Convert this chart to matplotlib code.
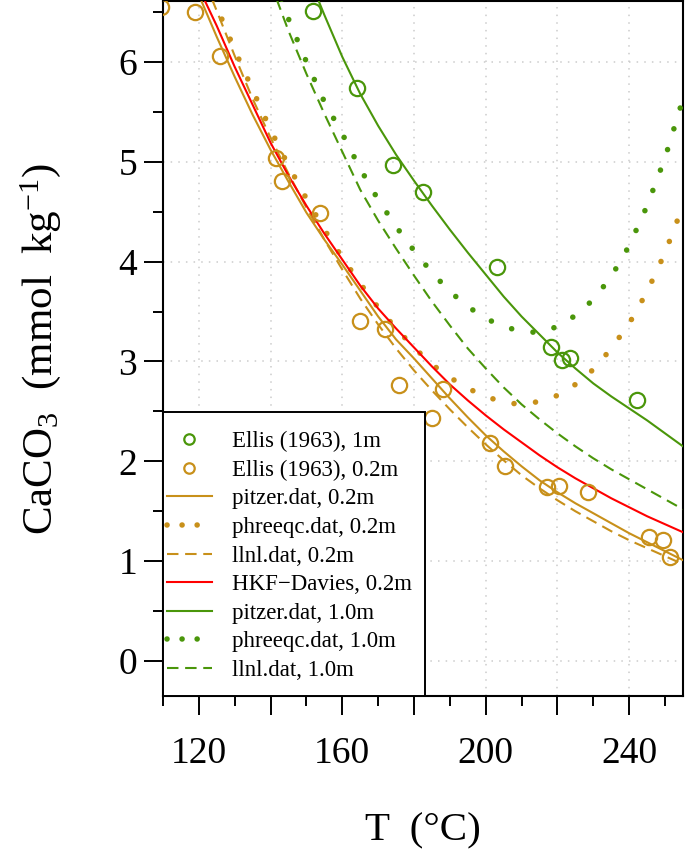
import matplotlib
matplotlib.use('Agg')
import matplotlib.pyplot as plt
from matplotlib.lines import Line2D
from matplotlib.patches import Rectangle
from matplotlib.ticker import MultipleLocator, FixedLocator, FixedFormatter

plt.rcParams['font.family'] = ['Liberation Serif', 'DejaVu Serif']
plt.rcParams['mathtext.fontset'] = 'custom'
plt.rcParams['mathtext.rm'] = 'Liberation Serif'
plt.rcParams['mathtext.it'] = 'Liberation Serif:italic'

GOLD = '#C8901A'
GREEN = '#4A960A'
RED = '#FF0000'

# ---- Experimental data (Ellis 1963) ----
ellis_1m_T = [151.9, 164.1, 174.1, 182.4, 203.2, 218.3, 221.2, 223.4, 242.3]
ellis_1m_C = [6.51, 5.74, 4.97, 4.70, 3.95, 3.15, 3.01, 3.03, 2.61]

ellis_02_T = [109.5, 118.9, 125.9, 141.6, 143.3, 153.9, 164.8, 172.0, 175.7,
              185.1, 188.1, 201.1, 205.3, 217.2, 220.3, 228.4, 245.6, 249.3, 251.3]
ellis_02_C = [6.55, 6.50, 6.06, 5.04, 4.81, 4.49, 3.41, 3.33, 2.76,
              2.43, 2.72, 2.18, 1.95, 1.74, 1.75, 1.69, 1.24, 1.21, 1.04]

# ---- Model curves, 0.2 m ----
T_02 = [115, 120, 125, 130, 135, 140, 145, 150, 155, 160, 165, 170, 175, 180, 185,
        190, 195, 200, 205, 210, 215, 220, 225, 230, 235, 240, 245, 250, 255]
pitzer_02 = [7.10, 6.67, 6.25, 5.85, 5.47, 5.12, 4.80, 4.49, 4.22, 3.97, 3.71, 3.45,
             3.22, 3.03, 2.83, 2.63, 2.44, 2.26, 2.10, 1.95, 1.81, 1.69, 1.58, 1.48,
             1.38, 1.28, 1.19, 1.10, 1.01]
phreeqc_02 = [7.50, 7.00, 6.55, 6.12, 5.72, 5.32, 4.96, 4.63, 4.32, 4.04, 3.78, 3.54,
              3.33, 3.14, 2.97, 2.84, 2.73, 2.65, 2.59, 2.57, 2.60, 2.66, 2.77, 2.92,
              3.13, 3.38, 3.70, 4.09, 4.56]
llnl_02 = [7.40, 6.95, 6.51, 6.06, 5.63, 5.24, 4.88, 4.54, 4.22, 3.92, 3.63, 3.37,
           3.13, 2.91, 2.71, 2.52, 2.34, 2.17, 2.01, 1.86, 1.73, 1.61, 1.50, 1.40,
           1.30, 1.21, 1.13, 1.05, 0.97]
hkf_02 = [7.10, 6.74, 6.36, 5.95, 5.57, 5.19, 4.86, 4.56, 4.28, 4.02, 3.76, 3.53,
          3.33, 3.14, 2.95, 2.77, 2.61, 2.46, 2.32, 2.19, 2.06, 1.94, 1.83, 1.73,
          1.63, 1.54, 1.45, 1.37, 1.29]

# ---- Model curves, 1.0 m ----
T_10 = [135, 140, 145, 150, 155, 160, 165, 170, 175, 180, 185, 190, 195, 200, 205,
        210, 215, 220, 225, 230, 235, 240, 245, 250, 255]
pitzer_10 = [8.30, 7.85, 7.38, 6.91, 6.47, 6.05, 5.68, 5.36, 5.07, 4.81, 4.56, 4.32,
             4.09, 3.87, 3.65, 3.45, 3.27, 3.09, 2.93, 2.78, 2.65, 2.53, 2.41, 2.28, 2.15]
phreeqc_10 = [7.50, 6.95, 6.43, 6.00, 5.60, 5.28, 4.93, 4.62, 4.35, 4.11, 3.89, 3.70,
              3.55, 3.43, 3.35, 3.30, 3.29, 3.35, 3.46, 3.62, 3.85, 4.16, 4.56, 5.04, 5.63]
llnl_10 = [7.35, 6.79, 6.31, 5.88, 5.48, 5.10, 4.72, 4.41, 4.13, 3.86, 3.60, 3.36,
           3.13, 2.93, 2.74, 2.57, 2.42, 2.28, 2.15, 2.03, 1.92, 1.82, 1.72, 1.62, 1.52]

x_major = [120, 140, 160, 180, 200, 220, 240]
x_labels = ['120', '', '160', '', '200', '', '240']
y_major = [0, 1, 2, 3, 4, 5, 6]

W, H = 685, 851
fig = plt.figure(figsize=(W / 100, H / 100), dpi=100)
ax = fig.add_axes([163 / W, 1 - 696 / H, 520 / W, 695 / H])

LW = 1.5
dash = (0, (5.5, 3.2))
dot = (0, (0.01, 3.9))

ax.plot(T_02, pitzer_02, color=GOLD, lw=LW, ls='-', zorder=3)
ax.plot(T_02, phreeqc_02, color=GOLD, lw=4.0, ls=dot, dash_capstyle='round', zorder=3)
ax.plot(T_02, llnl_02, color=GOLD, lw=LW, ls=dash, zorder=3)
ax.plot(T_02, hkf_02, color=RED, lw=LW, ls='-', zorder=3)
ax.plot(T_10, pitzer_10, color=GREEN, lw=LW, ls='-', zorder=3)
ax.plot(T_10, phreeqc_10, color=GREEN, lw=4.0, ls=dot, dash_capstyle='round', zorder=3)
ax.plot(T_10, llnl_10, color=GREEN, lw=LW, ls=dash, zorder=3)

ax.plot(ellis_1m_T, ellis_1m_C, ls='none', marker='o', ms=11, mfc='none',
        mec=GREEN, mew=1.6, zorder=4)
ax.plot(ellis_02_T, ellis_02_C, ls='none', marker='o', ms=11, mfc='none',
        mec=GOLD, mew=1.6, zorder=4)

ax.set_xlim(110, 255)
ax.set_ylim(-0.35, 6.61)

ax.xaxis.set_major_locator(FixedLocator(x_major))
ax.xaxis.set_major_formatter(FixedFormatter(x_labels))
ax.xaxis.set_minor_locator(MultipleLocator(10))
ax.yaxis.set_major_locator(FixedLocator(y_major))
ax.yaxis.set_minor_locator(MultipleLocator(0.5))

ax.grid(True, which='major', color='#cccccc', lw=1.1, ls=(0, (1, 4)), zorder=0)
ax.set_axisbelow(True)

ax.tick_params(which='major', direction='out', length=13.5, width=1.4, labelsize=27)
ax.tick_params(which='minor', direction='out', length=7, width=1.4)
ax.tick_params(axis='x', which='major', pad=15.5)
ax.tick_params(axis='y', which='major', pad=5)
for s in ax.spines.values():
    s.set_linewidth(1.5)

ax.set_xlabel('T  (°C)', fontsize=29.5, labelpad=30)
ax.set_ylabel(r'CaCO$_3$  (mmol  kg$^{-1}$)', fontsize=31, labelpad=40)

# legend box
ax.add_patch(Rectangle((0, 0), (425 - 163) / 520, (696 - 412) / 696,
                       transform=ax.transAxes, facecolor='white', edgecolor='black',
                       lw=1.4, zorder=5, clip_on=False))

handles = [
    Line2D([], [], ls='none', marker='o', ms=7.5, mfc='none', mec=GREEN, mew=1.6),
    Line2D([], [], ls='none', marker='o', ms=7.5, mfc='none', mec=GOLD, mew=1.6),
    Line2D([], [], color=GOLD, lw=LW, ls='-'),
    Line2D([], [], color=GOLD, lw=4.0, ls=(0, (0.01, 2.7)), dash_capstyle='round'),
    Line2D([], [], color=GOLD, lw=LW, ls=dash),
    Line2D([], [], color=RED, lw=LW, ls='-'),
    Line2D([], [], color=GREEN, lw=LW, ls='-'),
    Line2D([], [], color=GREEN, lw=4.0, ls=(0, (0.01, 2.7)), dash_capstyle='round'),
    Line2D([], [], color=GREEN, lw=LW, ls=dash),
]
labels = ['Ellis (1963), 1m', 'Ellis (1963), 0.2m', 'pitzer.dat, 0.2m',
          'phreeqc.dat, 0.2m', 'llnl.dat, 0.2m', 'HKF\u2212Davies, 0.2m',
          'pitzer.dat, 1.0m', 'phreeqc.dat, 1.0m', 'llnl.dat, 1.0m']
leg = ax.legend(handles, labels, loc='upper left', frameon=False,
                bbox_to_anchor=(167 / W, 1 - 431 / H), bbox_transform=fig.transFigure,
                borderpad=0, borderaxespad=0, fontsize=16.5, handlelength=1.95,
                handletextpad=0.87, labelspacing=0.33)
leg.set_zorder(6)

fig.savefig('out.png', dpi=100)
